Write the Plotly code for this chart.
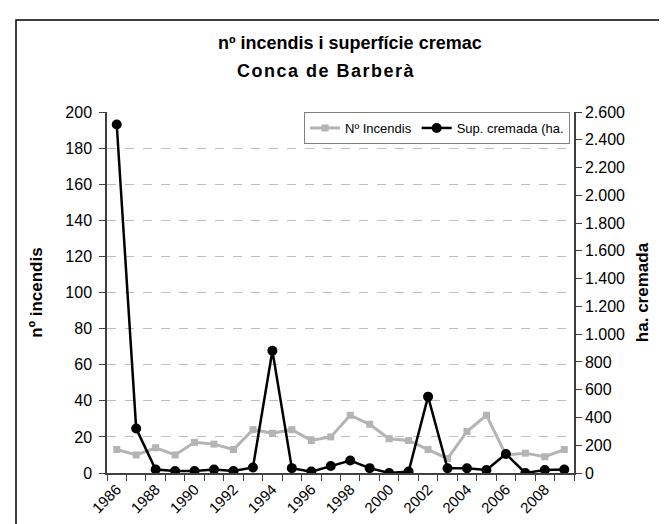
import plotly.graph_objects as go

years = list(range(1986, 2010))
n_incendis = [13, 10, 14, 10, 17, 16, 13, 24, 22, 24, 18, 20, 32, 27,
              19, 18, 13, 8, 23, 32, 10, 11, 9, 13]
sup_cremada = [2510, 320, 25, 15, 15, 25, 15, 40, 880, 35, 10, 50, 90, 35,
               0, 10, 550, 34, 34, 22, 137, 0, 22, 25]
year_labels = [str(y) for y in range(1986, 2010, 2)]

FONT = "Liberation Sans, Arial, sans-serif"
W, H = 667, 524
L, R, T, B = 99, 101, 104, 59
pw, ph = W - L - R, H - T - B


def px_x(x):
    return (x - L) / pw


def px_y(y):
    return (H - B - y) / ph


fig = go.Figure()

fig.add_trace(go.Scatter(
    x=years, y=n_incendis, name="Nº Incendis",
    mode="lines+markers",
    line=dict(color="#B4B4B4", width=3),
    marker=dict(symbol="square", size=7, color="#B4B4B4"),
))
fig.add_trace(go.Scatter(
    x=years, y=sup_cremada, name="Sup. cremada (ha.",
    yaxis="y2", mode="lines+markers",
    line=dict(color="#000000", width=2.5),
    marker=dict(symbol="circle", size=10, color="#000000"),
))

# outer chart frame
fig.add_shape(type="rect", xref="paper", yref="paper",
              x0=px_x(8), x1=px_x(666), y0=px_y(540), y1=px_y(12),
              line=dict(color="#000000", width=1.5), layer="below")

# two-line title, the first line is clipped in the original
title_font = dict(family=FONT, size=18, color="#000000")
fig.add_annotation(text="<b>nº incendis i superfície cremac</b>",
                   xref="paper", yref="paper", x=px_x(342), y=px_y(35),
                   xanchor="center", yanchor="middle", showarrow=False,
                   font=title_font)
fig.add_annotation(text="<span style='letter-spacing:1.5px'><b>Conca de Barberà</b></span>",
                   xref="paper", yref="paper", x=px_x(318), y=px_y(63),
                   xanchor="center", yanchor="middle", showarrow=False,
                   font=title_font)

fig.update_layout(
    width=W, height=H,
    margin=dict(l=L, r=R, t=T, b=B),
    paper_bgcolor="#FFFFFF", plot_bgcolor="#FFFFFF",
    font=dict(family=FONT, size=16, color="#000000"),
    separators=",.",
    showlegend=True,
    legend=dict(
        orientation="h", x=px_x(562), xanchor="right", y=1.0, yanchor="top",
        bordercolor="#808080", borderwidth=1, bgcolor="#FFFFFF",
        font=dict(family=FONT, size=13), itemwidth=30,
        tracegroupgap=0,
    ),
    xaxis=dict(
        range=[1985.5, 2009.5],
        tickvals=[int(s) for s in year_labels], ticktext=year_labels,
        tickangle=-45, ticks="", showgrid=False,
        showline=True, linecolor="#404040", linewidth=1.5,
        tickfont=dict(size=15),
        minor=dict(tick0=1985.5, dtick=1, ticks="outside", ticklen=6,
                   tickcolor="#404040", showgrid=False),
        zeroline=False,
    ),
    yaxis=dict(
        range=[0, 200], dtick=20, ticks="outside", ticklen=6,
        tickcolor="#404040", showline=True, linecolor="#404040", linewidth=1.5,
        showgrid=True, gridcolor="#BDBDBD", griddash="dash", gridwidth=1,
        zeroline=False, ticklabelstandoff=4,
        title=dict(text="<b>nº incendis</b>", font=dict(size=17), standoff=18),
    ),
    yaxis2=dict(
        range=[0, 2600], dtick=200, tickformat=",d", overlaying="y",
        side="right", ticks="outside", ticklen=6, tickcolor="#404040",
        showline=True, linecolor="#404040", linewidth=1.5,
        showgrid=False, zeroline=False,
        title=dict(text="<b>ha. cremada</b>", font=dict(size=17), standoff=12),
    ),
)

fig.write_html("out.html")
